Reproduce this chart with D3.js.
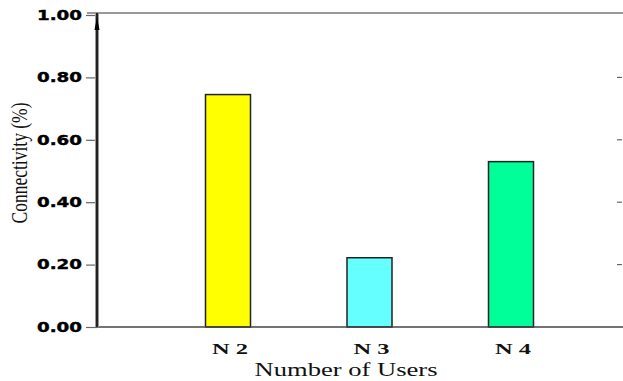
<!DOCTYPE html>
<html><head><meta charset="utf-8">
<script src="https://cdn.jsdelivr.net/npm/d3@7"></script>
<style>body{margin:0;background:#fff}svg{display:block}</style>
</head><body>
<script>
const categories = ["N 2", "N 3", "N 4"];
const values = [0.745, 0.222, 0.530];
const barColors = ["#FFFF00", "#66FFFF", "#00FF99"];
const yTicks = [0, 0.2, 0.4, 0.6, 0.8, 1.0];
const xTitle = "Number of Users";
const yTitle = "Connectivity (%)";

const W = 623, H = 381;
const svg = d3.select("body").append("svg").attr("width", W).attr("height", H);

const x0 = 97, x1 = 623, yTop = 15, yBot = 327;
const y = d3.scaleLinear().domain([0, 1]).range([yBot, yTop]);
const x = d3.scalePoint().domain(categories).range([228, 511]);
const barW = 45;

// top frame line
svg.append("line").attr("x1", 87).attr("x2", x1).attr("y1", 13).attr("y2", 13)
  .attr("stroke", "#777").attr("stroke-width", 1.5);

// bars
svg.selectAll("rect.bar").data(values).join("rect").attr("class", "bar")
  .attr("x", (d, i) => x(categories[i]) - barW / 2)
  .attr("width", barW)
  .attr("y", d => y(d))
  .attr("height", d => yBot - y(d))
  .attr("fill", (d, i) => barColors[i])
  .attr("stroke", "#222").attr("stroke-width", 1.5);

// bottom axis line
svg.append("line").attr("x1", x0).attr("x2", x1).attr("y1", yBot).attr("y2", yBot)
  .attr("stroke", "#444").attr("stroke-width", 1.5);

// left axis with ticks
const yAxis = d3.axisLeft(y).tickValues(yTicks).tickFormat(d3.format(".2f")).tickSize(11).tickPadding(4);
const gy = svg.append("g").attr("transform", `translate(${x0},0)`).call(yAxis);
gy.select(".domain").remove();
gy.selectAll(".tick line").attr("stroke", "#666").attr("stroke-width", 1.2);
gy.selectAll(".tick text")
  .attr("font-family", "'DejaVu Sans', Arial, sans-serif")
  .attr("font-weight", "bold").attr("font-size", 13.5).attr("fill", "#000")
  .attr("stroke", "#000").attr("stroke-width", 0.4)
  .attr("textLength", 45).attr("lengthAdjust", "spacingAndGlyphs");

// thick vertical axis
svg.append("line").attr("x1", x0).attr("x2", x0).attr("y1", 13).attr("y2", yBot)
  .attr("stroke", "#999").attr("stroke-width", 4);
svg.append("line").attr("x1", x0).attr("x2", x0).attr("y1", 13).attr("y2", yBot)
  .attr("stroke", "#222").attr("stroke-width", 2);
// arrow mark near top
svg.append("path").attr("d", `M${x0},17 L${x0 - 2.5},30 L${x0 + 2.5},30 Z`).attr("fill", "#000");

// right side small ticks
svg.selectAll("line.rt").data(yTicks.filter(d => d > 0 && d < 1)).join("line").attr("class", "rt")
  .attr("x1", 617).attr("x2", 622).attr("y1", d => y(d)).attr("y2", d => y(d))
  .attr("stroke", "#666").attr("stroke-width", 1.2);

// category labels
svg.selectAll("text.cat").data(categories).join("text").attr("class", "cat")
  .attr("x", d => x(d) + 2).attr("y", 354)
  .attr("text-anchor", "middle")
  .attr("font-family", "'Liberation Serif', 'Times New Roman', serif")
  .attr("font-weight", "bold").attr("font-size", 14).attr("fill", "#111")
  .attr("textLength", 36).attr("lengthAdjust", "spacingAndGlyphs")
  .text(d => d);

// x title
svg.append("text").attr("x", 346).attr("y", 376).attr("text-anchor", "middle")
  .attr("font-family", "'Liberation Serif', 'Times New Roman', serif")
  .attr("font-size", 19).attr("fill", "#111")
  .attr("textLength", 183).attr("lengthAdjust", "spacingAndGlyphs")
  .text(xTitle);

// y title
svg.append("text").attr("transform", "translate(27,163) rotate(-90) scale(1,1.45)")
  .attr("text-anchor", "middle")
  .attr("font-family", "'Liberation Serif', 'Times New Roman', serif")
  .attr("font-size", 16).attr("fill", "#111")
  .attr("textLength", 121).attr("lengthAdjust", "spacingAndGlyphs")
  .text(yTitle);
</script>
</body></html>
